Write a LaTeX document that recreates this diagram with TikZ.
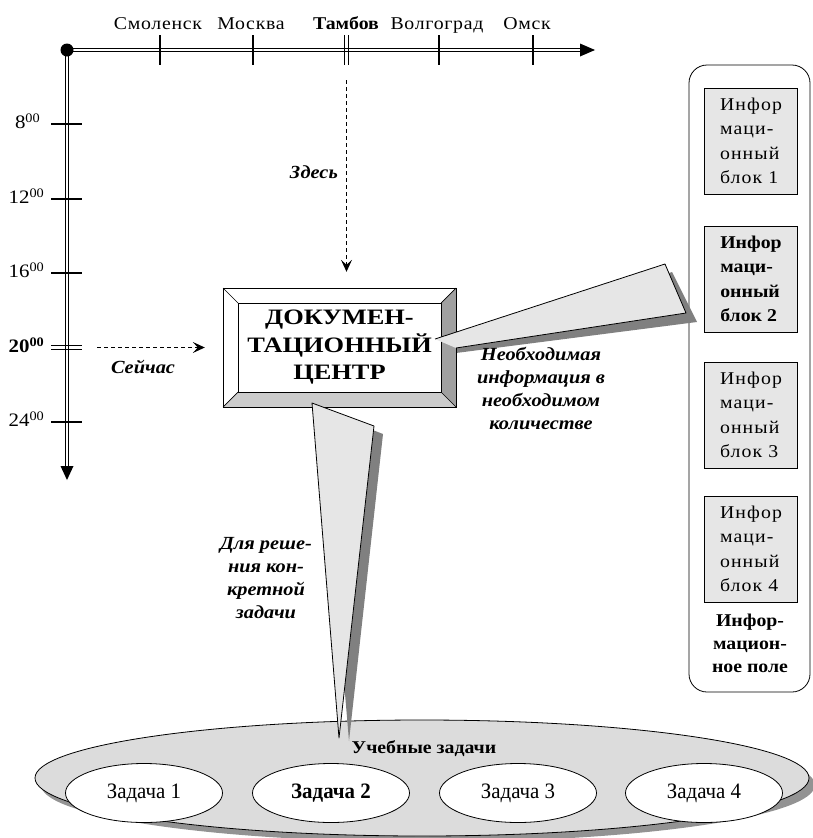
\documentclass[tikz,border=0pt]{standalone}
\usepackage{fontspec}
\setmainfont[FakeStretch=1.1]{Liberation Serif}
\newfontfamily\cityfont[FakeStretch=1.1,LetterSpace=4]{Liberation Serif}
\newfontfamily\widefont[FakeStretch=1.1,LetterSpace=6]{Liberation Serif}
\newfontfamily\boxfont[FakeStretch=1.2]{Liberation Serif}
\newfontfamily\narrowfont[FakeStretch=0.95]{Liberation Serif}
\usetikzlibrary{arrows.meta,shapes.geometric}
\definecolor{lg}{HTML}{E6E6E6}
\definecolor{shgray}{HTML}{808080}
\definecolor{bevR}{HTML}{A0A0A0}
\definecolor{bevB}{HTML}{CCCCCC}
\definecolor{fieldgray}{HTML}{DCDCDC}
\newcommand\hhmm[2]{#1\raisebox{6pt}{\fontsize{13}{13}\selectfont #2}}
\tikzset{
  axisline/.style={double, double distance=2.2pt, line width=1.1pt},
  tickline/.style={line width=1.2pt},
  citylbl/.style={anchor=base, inner sep=0, font=\cityfont\fontsize{18}{20}\selectfont},
  timelbl/.style={anchor=base east, inner sep=0, font=\fontsize{19}{20}\selectfont},
  caption/.style={inner sep=0, align=center, font=\bfseries\itshape\fontsize{18.5}{23}\selectfont},
  dasharrow/.style={dashed, dash pattern=on 4pt off 3pt, line width=0.9pt, -{Stealth[length=12pt,width=11pt,inset=5pt]}},
  infoblock/.style={draw, fill=lg, line width=0.8pt, minimum width=93, minimum height=106, inner sep=0, align=left, font=\widefont\fontsize{18}{24.5}\selectfont},
  task/.style={ellipse, draw, fill=white, line width=0.8pt, minimum width=157, minimum height=59, inner sep=0, font=\narrowfont\fontsize{22}{24}\selectfont},
  wedge/.style={fill=lg, draw, line width=0.8pt, line join=round}
}
\begin{document}
\begin{tikzpicture}[x=1pt,y=-1pt]
\useasboundingbox (0,0) rectangle (813,838);

% ---------- field of tasks ----------
\begin{scope}
\clip (0,0) rectangle (813,838);
\fill[shgray!85] (428,785) ellipse [x radius=387, y radius=57];
\end{scope}
\node[ellipse, draw, fill=fieldgray, line width=0.8pt, minimum width=774, minimum height=116, inner sep=0] (field) at (422,778) {};
\node[inner sep=0, font=\bfseries\fontsize{18}{20}\selectfont] (fieldlbl) at (424,749) {Учебные задачи};
\node[task] (t1) at (144,793) {Задача 1};
\node[task, font=\narrowfont\bfseries\fontsize{22}{24}\selectfont] (t2) at (331,793) {Задача 2};
\node[task] (t3) at (518,793) {Задача 3};
\node[task] (t4) at (704,793) {Задача 4};

% ---------- axes ----------
\coordinate (O) at (67,50);
\coordinate (xend) at (582,50);
\coordinate (yend) at (67,467);
\draw[axisline] (O) -- (xend);
\draw[axisline] (O) -- (yend);
\fill (595,50) -- (580,43.5) -- (580,56.5) -- cycle;
\fill (67,480) -- (60.5,466) -- (73.5,466) -- cycle;
\fill (O) circle (6.5);

% city ticks
\foreach \x in {160,253,439,533} \draw[tickline] (\x,35) -- (\x,65);
\draw[tickline] (344.5,35) -- (344.5,65);
\draw[tickline] (348.5,35) -- (348.5,65);
\node[citylbl] (c1) at (158,29) {Смоленск};
\node[citylbl] (c2) at (251,29) {Москва};
\node[citylbl, font=\bfseries\fontsize{18}{20}\selectfont] (c3) at (346,29) {Тамбов};
\node[citylbl] (c4) at (437,29) {Волгоград};
\node[citylbl] (c5) at (527,29) {Омск};

% time ticks
\foreach \y in {124,199,273,422} \draw[tickline] (51,\y) -- (82,\y);
\draw[tickline] (51,345.3) -- (82,345.3);
\draw[tickline] (51,349.7) -- (82,349.7);
\node[timelbl] (h8)  at (40,128) {\hhmm{8}{00}};
\node[timelbl] (h12) at (44,203) {\hhmm{12}{00}};
\node[timelbl] (h16) at (44,277) {\hhmm{16}{00}};
\node[timelbl, font=\bfseries\fontsize{19}{20}\selectfont] (h20) at (44,352) {\hhmm{20}{00}};
\node[timelbl] (h24) at (44,426) {\hhmm{24}{00}};

% ---------- information field ----------
\node[draw, rounded corners=18, line width=0.8pt, minimum width=121, minimum height=627, inner sep=0] (panel) at (749.5,378.5) {};
\node[infoblock] (b1) at (751,141) {Инфор\\маци-\\онный\\блок 1};
\node[infoblock, font=\bfseries\fontsize{18}{24.5}\selectfont] (b2) at (751,279) {Инфор\\маци-\\онный\\блок 2};
\node[infoblock] (b3) at (751,415) {Инфор\\маци-\\онный\\блок 3};
\node[infoblock] (b4) at (751,549) {Инфор\\маци-\\онный\\блок 4};
\node[inner sep=0, align=center, font=\bfseries\fontsize{18}{23}\selectfont] (fieldname) at (750,643) {Инфор-\\мацион-\\ное поле};

% ---------- documentation centre (bevelled box) ----------
\fill[white] (223,288) rectangle (456,407);
\fill[bevR] (456,288) -- (456,407) -- (441,392) -- (441,303) -- cycle;
\fill[bevB] (223,407) -- (456,407) -- (441,392) -- (238,392) -- cycle;
\draw[line width=0.9pt] (223,288) rectangle (456,407);
\draw[line width=0.9pt] (238,303) rectangle (441,392);
\draw[line width=0.7pt] (223,288) -- (238,303) (456,288) -- (441,303) (223,407) -- (238,392) (456,407) -- (441,392);
\node[minimum width=233, minimum height=119, inner sep=0, align=center,
      font=\boxfont\bfseries\fontsize{22}{27.5}\selectfont] (doc) at (339.5,347.5) {ДОКУМЕН-\\ТАЦИОННЫЙ\\ЦЕНТР};

% ---------- dashed arrows ----------
\coordinate (here) at (346.5,80);
\coordinate (now) at (97,347.5);
\draw[dasharrow, shorten >=16pt] (here) -- (doc.north -| here);
\draw[dasharrow, shorten >=18pt] (now) -- (doc.west |- now);
\node[caption, anchor=east] (zdes) at (338,172) {Здесь};
\node[caption] (seych) at (143,367) {Сейчас};

% ---------- right wedge ----------
\begin{scope}
\clip (457,0) rectangle (813,838);
\fill[shgray] (456,348) -- (672,272) -- (697,322) -- (456,353) -- cycle;
\end{scope}
\fill[lg] (435,339) -- (665,264) -- (686,313) -- (456,348) -- cycle;
\draw[line width=0.8pt, line join=round] (435,339) -- (665,264) -- (686,313) -- (456,348);
\node[caption] (need) at (541,388) {Необходимая\\информация в\\необходимом\\количестве};

% ---------- bottom wedge ----------
\begin{scope}
\clip (0,408) rectangle (813,838);
\fill[shgray] (321,410) -- (383,434) -- (349,741) -- cycle;
\end{scope}
\draw[wedge] (312,403) -- (374,426) -- (339,738) -- cycle;
\node[caption] (solve) at (266,578) {Для реше-\\ния кон-\\кретной\\задачи};

\end{tikzpicture}
\end{document}
